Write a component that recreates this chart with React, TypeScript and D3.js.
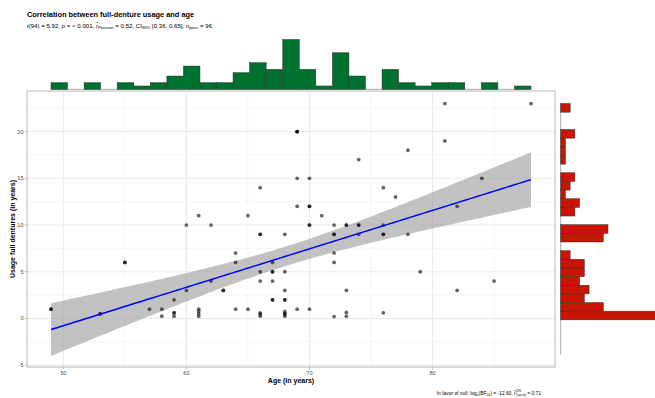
import React from "react";
import * as d3 from "d3";

// Age (in years) and full-denture usage (in years), one entry per patient
const ages = [
  81, 88, 69, 69, 69, 81, 78, 74, 69, 70, 84, 66, 76, 77, 69, 70, 70, 82,
  61, 65, 71, 60, 62, 70, 70, 72, 73, 73, 74, 74, 76, 66, 66, 68, 72, 72,
  74, 76, 76, 78, 64, 72, 55, 55, 64, 67, 72, 66, 67, 67, 68, 79, 62, 66,
  67, 85, 60, 63, 63, 68, 73, 82, 59, 67, 67, 68, 68, 49, 49, 57, 58, 61,
  64, 65, 69, 70, 53, 53, 58, 59, 59, 59, 61, 61, 61, 66, 66, 66, 68, 68,
  68, 68, 72, 73, 73, 76,
];
const usage = [
  23, 23, 20, 20, 20, 19, 18, 17, 15, 15, 15, 14, 14, 13, 12, 12, 12, 12,
  11, 11, 11, 10, 10, 10, 10, 10, 10, 10, 10, 10, 10, 9, 9, 9, 9, 9,
  9, 9, 9, 9, 7, 7, 6, 6, 6, 6, 6, 5, 5, 5, 5, 5, 4, 4,
  4, 4, 3, 3, 3, 3, 3, 3, 2, 2, 2, 2, 2, 1, 1, 1, 1, 1,
  1, 1, 1, 1, 0.5, 0.5, 0.25, 0.6, 0.6, 0.25, 0.75, 0.5, 0.25, 0.6, 0.45, 0.25, 0.75, 0.5,
  0.5, 0.25, 0.2, 0.65, 0.25, 0.6,
];
const xTicks = [50, 60, 70, 80];
const xMinor = [55, 65, 75, 85];
const yTicks = [-5, 0, 5, 10, 15, 20];
const yMinor = [-2.5, 2.5, 7.5, 12.5, 17.5, 22.5];
// layer ranges of the original plot (points + smoother ribbon), used for axes and marginal bins
const xLayerRange = [49, 88];
const yLayerRange = [-3.85, 23];
const binCount = 29;
const titleText = "Correlation between full-denture usage and age";
const xTitle = "Age (in years)";
const yTitle = "Usage full dentures (in years)";

const W = 655;
const H = 398;
const P = { l: 27, r: 555, t: 91, b: 367 };
const FONT = "'Liberation Sans', Arial, sans-serif";

export default function App() {
  const n = ages.length;
  const xbar = d3.mean(ages) as number;
  const ybar = d3.mean(usage) as number;
  let sxx = 0, sxy = 0;
  for (let i = 0; i < n; i++) {
    sxx += (ages[i] - xbar) ** 2;
    sxy += (ages[i] - xbar) * (usage[i] - ybar);
  }
  const slope = sxy / sxx;
  const icpt = ybar - slope * xbar;
  let rss = 0;
  for (let i = 0; i < n; i++) rss += (usage[i] - icpt - slope * ages[i]) ** 2;
  const s = Math.sqrt(rss / (n - 2));
  const tq = 1.9855;
  const xmin = d3.min(ages) as number;
  const xmax = d3.max(ages) as number;
  const fit = d3.range(0, 81).map((i) => {
    const x = xmin + ((xmax - xmin) * i) / 80;
    const yh = icpt + slope * x;
    const se = s * Math.sqrt(1 / n + (x - xbar) ** 2 / sxx);
    return { x, y: yh, lo: yh - tq * se, hi: yh + tq * se };
  });
  const [xL, xH] = xLayerRange;
  const [yL, yH] = yLayerRange;
  const xs = d3
    .scaleLinear()
    .domain([xL - 0.05 * (xH - xL), xH + 0.05 * (xH - xL)])
    .range([P.l, P.r]);
  const ys = d3
    .scaleLinear()
    .domain([yL - 0.05 * (yH - yL), yH + 0.05 * (yH - yL)])
    .range([P.b, P.t]);

  const area = d3
    .area<any>()
    .x((d) => xs(d.x))
    .y0((d) => ys(d.lo))
    .y1((d) => ys(d.hi));
  const line = d3
    .line<any>()
    .x((d) => xs(d.x))
    .y((d) => ys(d.y));

  const xBins = d3
    .bin()
    .domain([xL, xH])
    .thresholds(d3.range(1, binCount).map((k) => xL + (k * (xH - xL)) / binCount))(ages);
  const yBins = d3
    .bin()
    .domain([yL, yH])
    .thresholds(d3.range(1, binCount).map((k) => yL + (k * (yH - yL)) / binCount))(usage);
  const topBase = 89.3;
  const xCnt = d3
    .scaleLinear()
    .domain([0, (d3.max(xBins, (b) => b.length) as number) * 1.05])
    .range([topBase, 37]);
  const rightBase = 560.7;
  const yCnt = d3
    .scaleLinear()
    .domain([0, (d3.max(yBins, (b) => b.length) as number) * 1.05])
    .range([rightBase, rightBase + 99.3]);

  const gridMajor = "#e6e6e6";
  const gridMinor = "#f0f0f0";
  const tickCol = "#4d4d4d";

  return (
    <svg width={W} height={H} style={{ position: "absolute", left: 0, top: 0 }} fontFamily={FONT}>
      <rect x={0} y={0} width={W} height={H} fill="#fff" />
      {/* title & subtitle */}
      <text x={27} y={17} fontSize={7.4} fontWeight="bold" fill="#000">
        {titleText}
      </text>
      <text x={27} y={27.5} fontSize={6.1} fill="#000">
        <tspan fontStyle="italic">t</tspan>
        <tspan>(94) = 5.92, </tspan>
        <tspan fontStyle="italic">p</tspan>
        <tspan> = &lt; 0.001, </tspan>
        <tspan fontStyle="italic">{"r\u0302"}</tspan>
        <tspan fontSize={4.2} dy={1.4}>Pearson</tspan>
        <tspan dy={-1.4}> = 0.52, CI</tspan>
        <tspan fontSize={4.2} dy={1.4}>95%</tspan>
        <tspan dy={-1.4}> [0.36, 0.65], </tspan>
        <tspan fontStyle="italic">n</tspan>
        <tspan fontSize={4.2} dy={1.4}>pairs</tspan>
        <tspan dy={-1.4}> = 96</tspan>
      </text>

      {/* panel grid */}
      {xMinor.map((v) => (
        <line key={"xm" + v} x1={xs(v)} x2={xs(v)} y1={P.t} y2={P.b} stroke={gridMinor} strokeWidth={0.6} />
      ))}
      {yMinor.map((v) => (
        <line key={"ym" + v} x1={P.l} x2={P.r} y1={ys(v)} y2={ys(v)} stroke={gridMinor} strokeWidth={0.6} />
      ))}
      {xTicks.map((v) => (
        <line key={"xg" + v} x1={xs(v)} x2={xs(v)} y1={P.t} y2={P.b} stroke={gridMajor} strokeWidth={0.9} />
      ))}
      {yTicks.map((v) => (
        <line key={"yg" + v} x1={P.l} x2={P.r} y1={ys(v)} y2={ys(v)} stroke={gridMajor} strokeWidth={0.9} />
      ))}

      {/* ribbon + points + line */}
      <path d={area(fit) as string} fill="#999999" fillOpacity={0.6} />
      {ages.map((a, i) => (
        <circle key={"p" + i} cx={xs(a)} cy={ys(usage[i])} r={1.9} fill="#000" fillOpacity={0.6} />
      ))}
      <path d={line(fit) as string} fill="none" stroke="#0000ff" strokeWidth={1.5} />

      {/* panel border */}
      <rect x={P.l} y={P.t} width={P.r - P.l} height={P.b - P.t} fill="none" stroke="#c4c4c4" strokeWidth={1.2} />

      {/* axes ticks and labels */}
      {xTicks.map((v) => (
        <g key={"xt" + v}>
          <line x1={xs(v)} x2={xs(v)} y1={P.b} y2={P.b + 2.5} stroke="#999" strokeWidth={0.6} />
          <text x={xs(v)} y={P.b + 8} fontSize={5.6} textAnchor="middle" fill={tickCol}>
            {v}
          </text>
        </g>
      ))}
      {yTicks.map((v) => (
        <g key={"yt" + v}>
          <line x1={P.l - 2.5} x2={P.l} y1={ys(v)} y2={ys(v)} stroke="#999" strokeWidth={0.6} />
          <text x={P.l - 3.5} y={ys(v) + 2} fontSize={5.6} textAnchor="end" fill={tickCol}>
            {v}
          </text>
        </g>
      ))}
      <text x={(P.l + P.r) / 2} y={383} fontSize={7} fontWeight="bold" textAnchor="middle" fill="#000">
        {xTitle}
      </text>
      <text
        transform={`translate(14.5,${(P.t + P.b) / 2}) rotate(-90)`}
        fontSize={7}
        fontWeight="bold"
        textAnchor="middle"
        fill="#000"
      >
        {yTitle}
      </text>

      {/* caption */}
      <text x={P.r - 14} y={394.5} fontSize={4.9} textAnchor="end" fill="#000">
        <tspan>In favor of null: log</tspan>
        <tspan fontSize={3.4} dy={1.2}>e</tspan>
        <tspan dy={-1.2}>(BF</tspan>
        <tspan fontSize={3.4} dy={1.2}>01</tspan>
        <tspan dy={-1.2}>) = -12.60, </tspan>
        <tspan fontStyle="italic">{"r\u0302"}</tspan>
        <tspan fontSize={3.0} dy={-2.2}>JZS</tspan>
        <tspan fontSize={3.0} dy={3.6} dx={-5.3}>Cauchy</tspan>
        <tspan dy={-1.4}> = 0.71</tspan>
      </text>

      {/* top marginal histogram */}
      <line x1={xs(xL)} x2={xs(xH)} y1={topBase} y2={topBase} stroke="#777" strokeWidth={0.6} />
      {xBins.map((b, i) =>
        b.length > 0 ? (
          <rect
            key={"xb" + i}
            x={xs(b.x0 as number)}
            y={xCnt(b.length)}
            width={xs(b.x1 as number) - xs(b.x0 as number)}
            height={topBase - xCnt(b.length)}
            fill="#00702f"
            stroke="#333"
            strokeWidth={0.5}
          />
        ) : null
      )}

      {/* right marginal histogram */}
      <line x1={rightBase} x2={rightBase} y1={ys(yL)} y2={ys(yH)} stroke="#777" strokeWidth={0.6} />
      {yBins.map((b, i) =>
        b.length > 0 ? (
          <rect
            key={"yb" + i}
            x={rightBase}
            y={ys(b.x1 as number)}
            width={yCnt(b.length) - rightBase}
            height={ys(b.x0 as number) - ys(b.x1 as number)}
            fill="#c81400"
            stroke="#333"
            strokeWidth={0.5}
          />
        ) : null
      )}
    </svg>
  );
}
